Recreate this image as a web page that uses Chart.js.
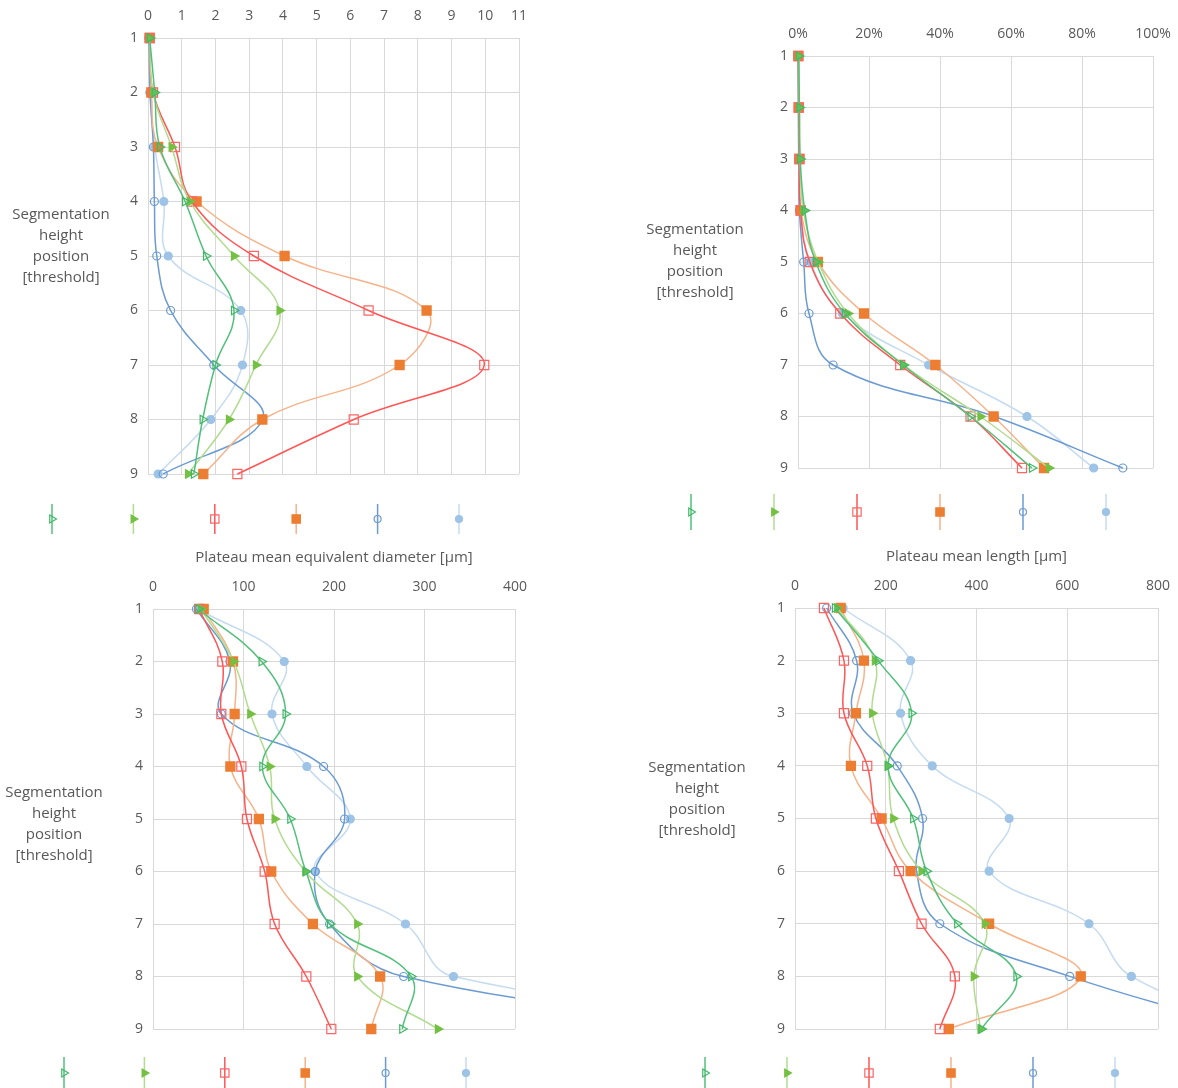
<!DOCTYPE html>
<html>
<head>
<meta charset="utf-8">
<script src="https://cdn.jsdelivr.net/npm/chart.js@4.4.1/dist/chart.umd.min.js"></script>
<style>
  body { margin: 0; background: #fff; }
  #page { position: relative; width: 1178px; height: 1088px; background: #fff; }
  canvas { position: absolute; }
</style>
</head>
<body>
<div id="page">
  <canvas id="grafico-1" width="589" height="545" style="left:0;top:0"></canvas>
  <canvas id="grafico-2" width="589" height="545" style="left:589px;top:0"></canvas>
  <canvas id="grafico-3" width="589" height="548" style="left:0;top:540px"></canvas>
  <canvas id="grafico-4" width="589" height="548" style="left:589px;top:540px"></canvas>
</div>
<script>
// segmentation height positions (rows, top to bottom)
const rows = [1, 2, 3, 4, 5, 6, 7, 8, 9];
const yTitleLines = ["Segmentation", "height", "position", "[threshold]"];

// top left: 0 - 11
const p1OpenTri = [0.05, 0.2, 0.35, 1.1, 1.72, 2.55, 2.0, 1.62, 1.36];
const p1FilledTri = [0.05, 0.15, 0.7, 1.24, 2.55, 3.9, 3.2, 2.4, 1.19];
const p1OpenSq = [0.05, 0.15, 0.8, 1.3, 3.14, 6.54, 9.97, 6.1, 2.65];
const p1FilledSq = [0.05, 0.1, 0.3, 1.44, 4.05, 8.26, 7.46, 3.39, 1.64];
const p1OpenCirc = [0.03, 0.06, 0.16, 0.19, 0.26, 0.67, 1.95, 3.4, 0.45];
const p1FilledCirc = [0.03, 0.06, 0.2, 0.47, 0.6, 2.75, 2.8, 1.86, 0.3];

// top right: percent
const p2OpenTri = [0.2, 0.4, 0.6, 1.9, 5.0, 13.2, 29.6, 48.6, 65.9];
const p2FilledTri = [0.2, 0.4, 0.6, 1.5, 5.7, 14.1, 29.8, 51.4, 70.7];
const p2OpenSq = [0.1, 0.2, 0.4, 0.7, 3.3, 11.9, 28.8, 48.6, 63.1];
const p2FilledSq = [0.1, 0.2, 0.4, 0.8, 5.6, 18.6, 38.7, 55.1, 69.3];
const p2OpenCirc = [0.0, 0.1, 0.2, 0.4, 1.6, 3.1, 9.9, 55.3, 91.5];
const p2FilledCirc = [0.1, 0.2, 0.4, 0.7, 3.5, 12.5, 36.8, 64.5, 83.3];

// bottom left: plateau mean equivalent diameter
const p3OpenTri = [50, 120, 146.5, 120.8, 151.7, 169, 195.6, 285.3, 275.4];
const p3FilledTri = [53, 89, 107.5, 128.9, 134.4, 168.3, 225.7, 225.7, 314.8];
const p3OpenSq = [51, 76.6, 75.5, 97.6, 103.8, 123.4, 134.4, 169.4, 197];
const p3FilledSq = [56, 88.4, 90.2, 85.5, 117, 130.7, 176.7, 251, 241.2];
const p3OpenCirc = [48, 85, 75.5, 188.5, 211.7, 179.3, 195.1, 276.9, 700];
const p3FilledCirc = [50, 145, 131.5, 170, 218, 179.3, 279, 332, 800];

// bottom right: plateau mean length
const p4OpenTri = [88, 183.4, 256.9, 205, 260.5, 289.9, 357.4, 488, 411];
const p4FilledTri = [93, 176, 170.2, 204, 216.5, 278.9, 418.3, 394, 408.8];
const p4OpenSq = [63.8, 107.9, 107.9, 159.2, 178.3, 229, 278.9, 352.3, 319.2];
const p4FilledSq = [100.5, 151.9, 134.3, 123.3, 190.8, 254.7, 427.8, 629.7, 339];
const p4OpenCirc = [69.7, 135.8, 128.4, 225.3, 281.1, 268, 319.2, 605.5, 1000];
const p4FilledCirc = [106, 254.7, 232.7, 302.4, 471.9, 427.8, 647.9, 741.3, 1050];

const estilos = [
  { line: "#52c07a", marker: "#3fb866", fill: "rgba(255,255,255,0)", shape: "triangle", rot: 90, r: 5 },
  { line: "#b1dc8f", marker: "#74c043", fill: "#74c043", shape: "triangle", rot: 90, r: 5 },
  { line: "#ff5555", marker: "#ff6464", fill: "rgba(255,255,255,0)", shape: "rect", rot: 0, r: 6.4 },
  { line: "#f6b38a", marker: "#ed7d31", fill: "#ed7d31", shape: "rect", rot: 0, r: 6.4 },
  { line: "#6b9bd2", marker: "#6b9bd2", fill: "rgba(255,255,255,0)", shape: "circle", rot: 0, r: 4 },
  { line: "#c5dbf0", marker: "#9dc3e6", fill: "#9dc3e6", shape: "circle", rot: 0, r: 4 }
];

Chart.defaults.font.family = "'Open Sans', sans-serif";
Chart.defaults.color = "#595959";

// y title + legend with vertical line and marker
const panelExtras = {
  id: "panelExtras",
  afterDraw(chart, args, opts) {
    const ctx = chart.ctx;
    ctx.save();
    ctx.fillStyle = "#595959";
    ctx.font = "15px 'Open Sans', sans-serif";
    ctx.textAlign = "center";
    ctx.textBaseline = "middle";
    const n = yTitleLines.length;
    yTitleLines.forEach((linha, i) => {
      ctx.fillText(linha, opts.titleX, opts.titleY + (i - (n - 1) / 2) * 21);
    });

    chart.data.datasets.forEach((ds, i) => {
      const x = opts.legendX + i * opts.legendStep;
      const y = opts.legendY;
      ctx.strokeStyle = ds.borderColor;
      ctx.lineWidth = 1.5;
      ctx.beginPath();
      ctx.moveTo(x, y - opts.legendH);
      ctx.lineTo(x, y + opts.legendH);
      ctx.stroke();
      ctx.strokeStyle = ds.pointBorderColor;
      ctx.fillStyle = ds.pointBackgroundColor;
      ctx.lineWidth = ds.pointBorderWidth;
      Chart.helpers.drawPoint(ctx, {
        pointStyle: ds.pointStyle,
        rotation: ds.pointRotation,
        radius: ds.pointRadius - 0.5,
        borderWidth: ds.pointBorderWidth
      }, x, y);
    });
    ctx.restore();
  }
};

const criarPainel = (id, series, eixo, extras) => {
  const datasets = series.map((valores, i) => {
    const st = estilos[i];
    return {
      data: valores.map((v, k) => ({ x: v, y: rows[k] })),
      showLine: true,
      tension: 0.4,
      borderColor: st.line,
      borderWidth: 1.5,
      pointStyle: st.shape,
      pointRotation: st.rot,
      pointRadius: st.r,
      pointHoverRadius: st.r,
      pointBorderWidth: 1.2,
      pointBorderColor: st.marker,
      pointBackgroundColor: st.fill,
      clip: { left: 10, top: 10, right: 0, bottom: 10 }
    };
  });

  new Chart(document.getElementById(id).getContext("2d"), {
    type: "scatter",
    data: { datasets },
    plugins: [panelExtras],
    options: {
      responsive: false,
      animation: false,
      layout: { padding: eixo.padding },
      plugins: {
        legend: { display: false },
        tooltip: { enabled: false },
        panelExtras: extras
      },
      scales: {
        x: {
          type: "linear",
          position: "top",
          min: eixo.min,
          max: eixo.max,
          afterFit(scale) {
            scale.height = eixo.height;
            scale.paddingLeft = 0;
            scale.paddingRight = 0;
          },
          ticks: {
            stepSize: eixo.step,
            padding: 14,
            font: { size: 14 },
            callback: eixo.format
          },
          grid: { color: "#d9d9d9", drawTicks: false },
          border: { color: "#d9d9d9" },
          title: {
            display: !!eixo.title,
            text: eixo.title || "",
            font: { size: 15 },
            padding: { top: 0, bottom: 0 }
          }
        },
        y: {
          type: "linear",
          reverse: true,
          min: 1,
          max: 9,
          afterFit(scale) { scale.width = 30; },
          ticks: { stepSize: 1, padding: 10, font: { size: 14 } },
          grid: { color: "#d9d9d9", drawTicks: false },
          border: { color: "#d9d9d9" }
        }
      }
    }
  });
};

document.addEventListener("DOMContentLoaded", () => {
  criarPainel("grafico-1",
    [p1OpenTri, p1FilledTri, p1OpenSq, p1FilledSq, p1OpenCirc, p1FilledCirc],
    { min: 0, max: 11, step: 1, height: 30, padding: { left: 118, right: 70, top: 8, bottom: 71 } },
    { titleX: 61, titleY: 246, legendX: 52, legendStep: 81.4, legendY: 519, legendH: 15 });

  criarPainel("grafico-2",
    [p2OpenTri, p2FilledTri, p2OpenSq, p2FilledSq, p2OpenCirc, p2FilledCirc],
    { min: 0, max: 100, step: 20, height: 30, format: (v) => v + "%",
      padding: { left: 179, right: 25, top: 26, bottom: 77 } },
    { titleX: 106, titleY: 261, legendX: 102, legendStep: 83, legendY: 512, legendH: 18 });

  criarPainel("grafico-3",
    [p3OpenTri, p3FilledTri, p3OpenSq, p3FilledSq, p3OpenCirc, p3FilledCirc],
    { min: 0, max: 400, step: 100, height: 60, title: "Plateau mean equivalent diameter [µm]",
      padding: { left: 123, right: 74, top: 9, bottom: 59 } },
    { titleX: 54, titleY: 284, legendX: 64, legendStep: 80.4, legendY: 533, legendH: 16 });

  criarPainel("grafico-4",
    [p4OpenTri, p4FilledTri, p4OpenSq, p4FilledSq, p4OpenCirc, p4FilledCirc],
    { min: 0, max: 800, step: 200, height: 60, title: "Plateau mean length [µm]",
      padding: { left: 176, right: 20, top: 8, bottom: 59 } },
    { titleX: 108, titleY: 259, legendX: 116, legendStep: 82, legendY: 533, legendH: 16 });
});
</script>
</body>
</html>
